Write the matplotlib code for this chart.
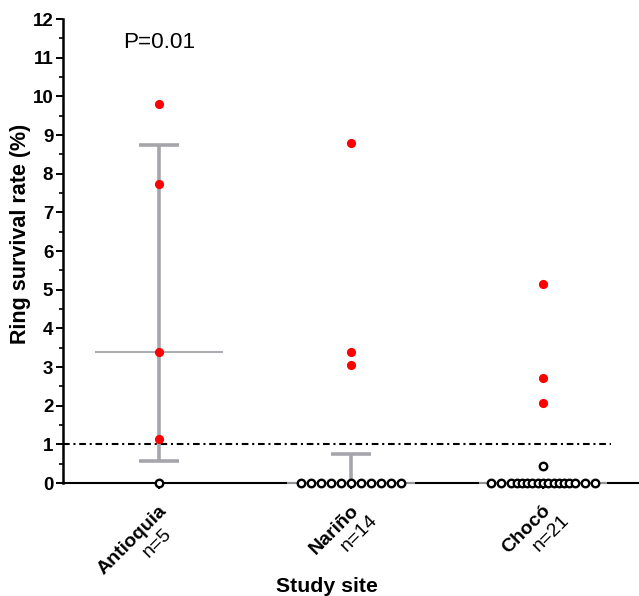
import numpy as np
import matplotlib
matplotlib.use("Agg")
import matplotlib.pyplot as plt
import matplotlib.transforms as mtransforms

plt.rcParams['font.family'] = ['Liberation Sans', 'DejaVu Sans']

# data
sites = ["Antioquia", "Nariño", "Chocó"]
n_labels = ["n=5", "n=14", "n=21"]
# samples above the 1% cut-off (red) and below it (open)
red_antioquia = [9.8, 7.73, 3.4, 1.15]
red_narino = [8.8, 3.38, 3.05]
red_choco = [5.15, 2.72, 2.07]
open_antioquia = [0.0]
open_narino = [0.0] * 11
open_choco = [0.43] + [0.0] * 17
medians = [3.4, 0.0, 0.0]
err_low = [0.58, 0.0, 0.0]
err_high = [8.75, 0.75, 0.0]
cutoff = 1.0
p_value = "P=0.01"

red_sets = [red_antioquia, red_narino, red_choco]
open_sets = [open_antioquia, open_narino, open_choco]

GREY = "#a5a5ab"


def spread(vals, step, dense_step=None, n_outer=0):
    """horizontal offsets for points sharing the same value (column scatter)"""
    vals = np.asarray(vals, dtype=float)
    offs = np.zeros(len(vals))
    for v in np.unique(vals):
        idx = np.where(vals == v)[0]
        k = len(idx)
        if k == 1:
            continue
        if dense_step is None:
            o = (np.arange(k) - (k - 1) / 2) * step
        else:
            inner = k - 2 * n_outer
            oi = (np.arange(inner) - (inner - 1) / 2) * dense_step
            edge = oi[-1]
            outer = edge + step * np.arange(1, n_outer + 1)
            o = np.concatenate([-outer[::-1], oi, outer])
        offs[idx] = o
    return offs


fig = plt.figure(figsize=(6.39, 5.96), dpi=100)
ax = fig.add_axes([63 / 639, 1 - 483 / 596, 1 - 63 / 639, (483 - 19) / 596])

# cut-off line
ax.plot([-0.5, 2.355], [cutoff, cutoff], color="black", lw=1.5,
        dashes=(3.2, 1.8, 1.0, 1.8), zorder=2)

for i in range(3):
    # median line
    ax.hlines(medians[i], i - 0.335, i + 0.335, color=GREY, lw=1.3, zorder=3,
              clip_on=False)
    # error bar
    if err_high[i] > err_low[i]:
        ax.vlines(i, err_low[i], err_high[i], color=GREY, lw=2.6, zorder=3)
        ax.hlines(err_high[i], i - 0.105, i + 0.105, color=GREY, lw=2.6, zorder=3)
        if err_low[i] > 0:
            ax.hlines(err_low[i], i - 0.105, i + 0.105, color=GREY, lw=2.6, zorder=3)

    # points
    r = red_sets[i]
    ax.plot(np.full(len(r), i), r, "o", color="#ff0000", ms=6.6, mew=0,
            zorder=5, clip_on=False)
    o = open_sets[i]
    if i == 2:
        dx = spread(o, 0.052, dense_step=0.0275, n_outer=2)
    else:
        dx = spread(o, 0.0525)
    ax.plot(i + dx, o, "o", mfc="white", mec="black", ms=5.4, mew=1.7,
            zorder=4, clip_on=False)

ax.set_xlim(-0.5, 2.5)
ax.set_ylim(0, 12)
for s in ["top", "right"]:
    ax.spines[s].set_visible(False)
ax.spines["left"].set_linewidth(1.8)
ax.spines["bottom"].set_linewidth(1.5)

ax.set_yticks(np.arange(0, 13, 1))
ax.set_yticks(np.arange(0.5, 12, 1), minor=True)
ax.tick_params(axis="y", which="major", direction="out", length=5, width=1.4,
               labelsize=13.5, pad=2)
ax.tick_params(axis="y", which="minor", direction="out", length=2.8, width=1.2)
for lab in ax.get_yticklabels():
    lab.set_fontweight("bold")

ax.set_xticks([0, 1, 2])
ax.set_xticklabels([])
ax.tick_params(axis="x", direction="out", length=4, width=1.4)

# rotated two-line category labels: name right-aligned under the tick,
# n= line roughly centred below it
renderer = fig.canvas.get_renderer()
c, s_ = np.cos(np.pi / 4), np.sin(np.pi / 4)
for i in range(3):
    ax0, ay0 = -1, -19
    t1 = mtransforms.offset_copy(ax.transData, fig=fig, x=ax0, y=ay0, units="dots")
    ax.text(i, 0, sites[i], transform=t1, rotation=45, rotation_mode="anchor",
            ha="right", va="top", fontsize=14, fontweight="bold", clip_on=False)
    tmp = fig.text(0, 0, sites[i], fontsize=14, fontweight="bold")
    w = tmp.get_window_extent(renderer).width
    tmp.remove()
    back = w / 2 - 15
    line = 20
    nx = ax0 - back * c + line * s_
    ny = ay0 - back * s_ - line * c
    t2 = mtransforms.offset_copy(ax.transData, fig=fig, x=nx, y=ny, units="dots")
    ax.text(i, 0, n_labels[i], transform=t2, rotation=45, rotation_mode="anchor",
            ha="center", va="top", fontsize=14, clip_on=False)

ax.text(0, 11.4, p_value, ha="center", va="center", fontsize=16.2)

fig.text(21 / 639, 1 - 234 / 596, "Ring survival rate (%)", rotation=90,
         ha="center", va="center", fontsize=15.5, fontweight="bold")
fig.text(327 / 639, 1 - 586 / 596, "Study site", ha="center", va="center",
         fontsize=15.3, fontweight="bold")

fig.savefig("out.png", dpi=100)
